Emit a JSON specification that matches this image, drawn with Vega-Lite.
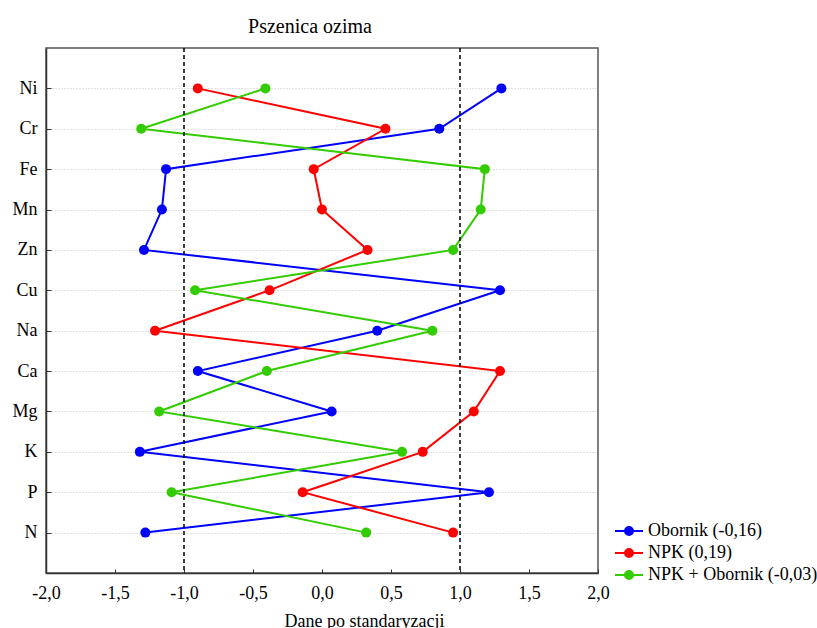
{
  "$schema": "https://vega.github.io/schema/vega-lite/v6.json",
  "autosize": "none",
  "width": 552,
  "height": 525,
  "padding": {"left": 46, "top": 48, "right": 219, "bottom": 55},
  "background": "white",
  "title": {"text": "Pszenica ozima", "font": "Liberation Serif", "fontSize": 20, "fontWeight": "normal", "color": "black", "anchor": "middle", "dx": -12, "dy": 23, "baseline": "alphabetic", "offset": 17},
  "config": {"view": {"stroke": "#555", "strokeWidth": 1.5}, "font": "Liberation Serif"},
  "datasets": {
    "pts": [
      {"series": "\u00a0Obornik (-0,16)", "element": "Ni", "idx": 1, "value": 1.30},
      {"series": "\u00a0Obornik (-0,16)", "element": "Cr", "idx": 2, "value": 0.85},
      {"series": "\u00a0Obornik (-0,16)", "element": "Fe", "idx": 3, "value": -1.13},
      {"series": "\u00a0Obornik (-0,16)", "element": "Mn", "idx": 4, "value": -1.16},
      {"series": "\u00a0Obornik (-0,16)", "element": "Zn", "idx": 5, "value": -1.29},
      {"series": "\u00a0Obornik (-0,16)", "element": "Cu", "idx": 6, "value": 1.29},
      {"series": "\u00a0Obornik (-0,16)", "element": "Na", "idx": 7, "value": 0.40},
      {"series": "\u00a0Obornik (-0,16)", "element": "Ca", "idx": 8, "value": -0.90},
      {"series": "\u00a0Obornik (-0,16)", "element": "Mg", "idx": 9, "value": 0.07},
      {"series": "\u00a0Obornik (-0,16)", "element": "K", "idx": 10, "value": -1.32},
      {"series": "\u00a0Obornik (-0,16)", "element": "P", "idx": 11, "value": 1.21},
      {"series": "\u00a0Obornik (-0,16)", "element": "N", "idx": 12, "value": -1.28},
      {"series": "NPK (0,19)", "element": "Ni", "idx": 1, "value": -0.90},
      {"series": "NPK (0,19)", "element": "Cr", "idx": 2, "value": 0.46},
      {"series": "NPK (0,19)", "element": "Fe", "idx": 3, "value": -0.06},
      {"series": "NPK (0,19)", "element": "Mn", "idx": 4, "value": 0.00},
      {"series": "NPK (0,19)", "element": "Zn", "idx": 5, "value": 0.33},
      {"series": "NPK (0,19)", "element": "Cu", "idx": 6, "value": -0.38},
      {"series": "NPK (0,19)", "element": "Na", "idx": 7, "value": -1.21},
      {"series": "NPK (0,19)", "element": "Ca", "idx": 8, "value": 1.29},
      {"series": "NPK (0,19)", "element": "Mg", "idx": 9, "value": 1.10},
      {"series": "NPK (0,19)", "element": "K", "idx": 10, "value": 0.73},
      {"series": "NPK (0,19)", "element": "P", "idx": 11, "value": -0.14},
      {"series": "NPK (0,19)", "element": "N", "idx": 12, "value": 0.95},
      {"series": "NPK + Obornik (-0,03)", "element": "Ni", "idx": 1, "value": -0.41},
      {"series": "NPK + Obornik (-0,03)", "element": "Cr", "idx": 2, "value": -1.31},
      {"series": "NPK + Obornik (-0,03)", "element": "Fe", "idx": 3, "value": 1.18},
      {"series": "NPK + Obornik (-0,03)", "element": "Mn", "idx": 4, "value": 1.15},
      {"series": "NPK + Obornik (-0,03)", "element": "Zn", "idx": 5, "value": 0.95},
      {"series": "NPK + Obornik (-0,03)", "element": "Cu", "idx": 6, "value": -0.92},
      {"series": "NPK + Obornik (-0,03)", "element": "Na", "idx": 7, "value": 0.80},
      {"series": "NPK + Obornik (-0,03)", "element": "Ca", "idx": 8, "value": -0.40},
      {"series": "NPK + Obornik (-0,03)", "element": "Mg", "idx": 9, "value": -1.18},
      {"series": "NPK + Obornik (-0,03)", "element": "K", "idx": 10, "value": 0.58},
      {"series": "NPK + Obornik (-0,03)", "element": "P", "idx": 11, "value": -1.09},
      {"series": "NPK + Obornik (-0,03)", "element": "N", "idx": 12, "value": 0.32}
    ],
    "refs": [{"value": -1}, {"value": 1}]
  },
  "encoding": {
    "x": {
      "field": "value", "type": "quantitative",
      "scale": {"domain": [-2, 2], "nice": false, "zero": false},
      "axis": {
        "values": [-2, -1.5, -1, -0.5, 0, 0.5, 1, 1.5, 2],
        "labelExpr": "(datum.value < 0 ? '-' : '') + replace(format(abs(datum.value), '.1f'), '.', ',')",
        "labelFont": "Liberation Serif", "labelFontSize": 18, "labelColor": "black",
        "labelFlush": false, "labelPadding": 15,
        "tickSize": -4, "tickColor": "#333", "domainColor": "#333", "domainWidth": 1.5,
        "grid": false,
        "title": "Dane po standaryzacji", "titleFont": "Liberation Serif", "titleFontSize": 18,
        "titleFontWeight": "normal", "titleColor": "black",
        "titleX": 318, "titleY": 53, "titleAlign": "center", "titleBaseline": "alphabetic"
      }
    }
  },
  "layer": [
    {
      "data": {"name": "pts"},
      "mark": {"type": "line", "strokeWidth": 2},
      "encoding": {
        "y": {
          "field": "element", "type": "ordinal",
          "sort": ["Ni", "Cr", "Fe", "Mn", "Zn", "Cu", "Na", "Ca", "Mg", "K", "P", "N"],
          "scale": {"type": "point", "padding": 1},
          "axis": {
            "title": null, "labelFont": "Liberation Serif", "labelFontSize": 18, "labelColor": "black",
            "labelPadding": 14, "tickSize": -5, "tickColor": "#333", "domainColor": "#333", "domainWidth": 1.5,
            "grid": true, "gridDash": [1, 2], "gridColor": "#c4c4c4", "gridWidth": 1
          }
        },
        "order": {"field": "idx", "type": "quantitative"},
        "color": {
          "field": "series", "type": "nominal",
          "scale": {
            "domain": ["\u00a0Obornik (-0,16)", "NPK (0,19)", "NPK + Obornik (-0,03)"],
            "range": ["#0000FF", "#FF0000", "#33CC00"]
          },
          "legend": {
            "orient": "none", "legendX": 572, "legendY": 472, "title": null, "padding": 0,
            "symbolType": "M-1.4,0L1.4,0M0.4,0A0.4,0.4,0,1,1,-0.4,0A0.4,0.4,0,1,1,0.4,0Z",
            "symbolSize": 400, "symbolStrokeWidth": 2,
            "labelFont": "Liberation Serif", "labelFontSize": 18, "labelColor": "black",
            "labelOffset": 8, "rowPadding": 2, "labelLimit": 300,
            "encode": {"symbols": {"update": {
              "fill": {"scale": "color", "field": "value"},
              "stroke": {"scale": "color", "field": "value"},
              "opacity": {"value": 1}, "fillOpacity": {"value": 1}
            }}}
          }
        }
      }
    },
    {
      "data": {"name": "pts"},
      "mark": {"type": "point", "filled": true, "size": 100, "opacity": 1},
      "encoding": {
        "y": {"field": "element", "type": "ordinal", "sort": ["Ni", "Cr", "Fe", "Mn", "Zn", "Cu", "Na", "Ca", "Mg", "K", "P", "N"]},
        "color": {"field": "series", "type": "nominal"}
      }
    },
    {
      "data": {"name": "refs"},
      "mark": {"type": "rule", "strokeDash": [4, 3], "color": "black", "strokeWidth": 1.5},
      "encoding": {}
    }
  ]
}
